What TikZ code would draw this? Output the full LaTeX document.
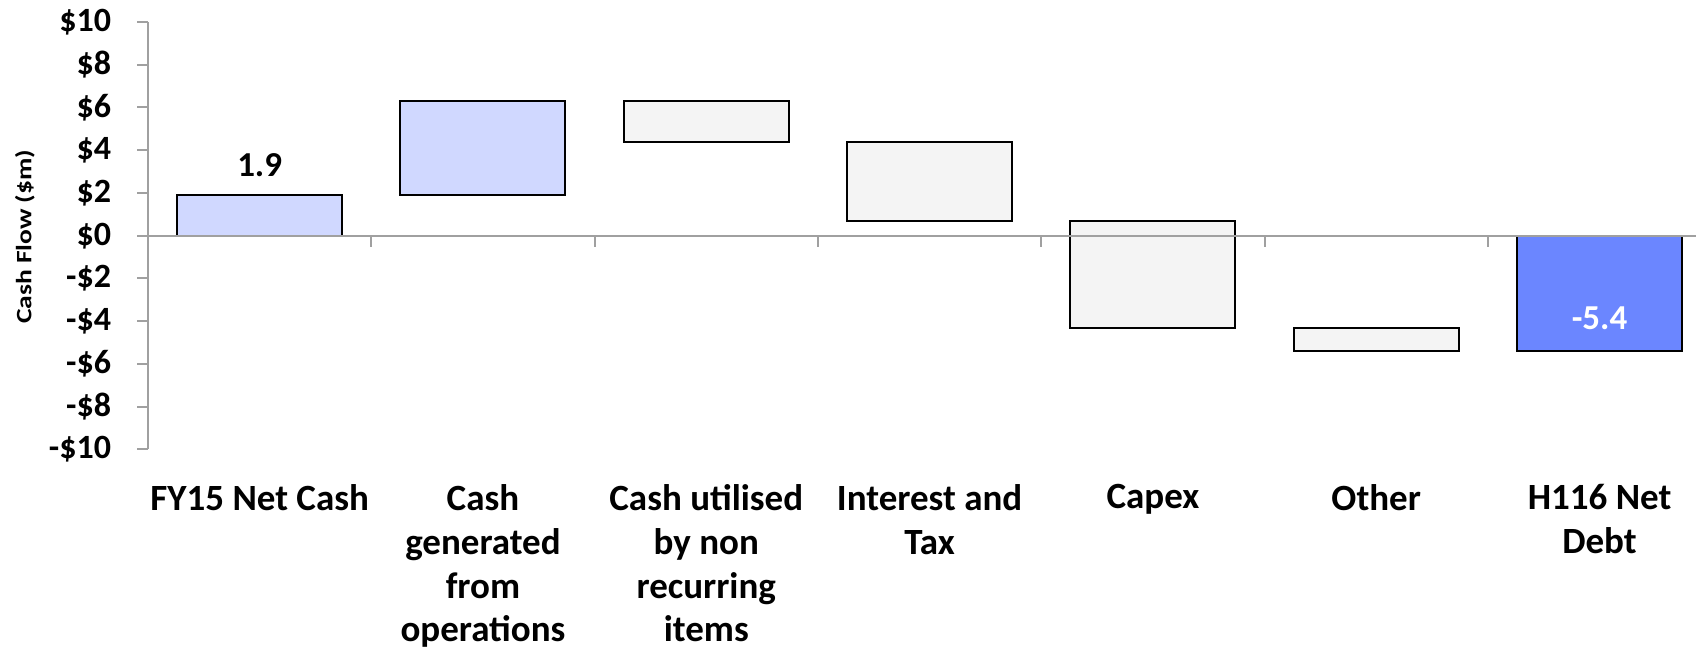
\documentclass[tikz,border=0pt]{standalone}
\usepackage{fontspec}
\setmainfont{Carlito}
\newfontfamily\titlefont{Carlito}[FakeStretch=1.25]
\usetikzlibrary{positioning}
\definecolor{barLight}{HTML}{D0D8FF}
\definecolor{barGrey}{HTML}{F4F4F4}
\definecolor{barDark}{HTML}{6B86FF}
\definecolor{axisGrey}{HTML}{A0A0A0}
\newcommand{\barhalf}{0.3695}
\begin{document}
\begin{tikzpicture}[x=111.65pt, y=10.685pt,
  font=\bfseries\fontsize{17}{21.9}\selectfont,
  bar/.style={draw=black, line width=1pt, fill=#1},
  axis/.style={draw=axisGrey, line width=1pt},
  cat/.style={anchor=north, align=center, inner sep=0pt,
    font=\bfseries\fontsize{18.5}{21.9}\selectfont},
  ticklab/.style={anchor=east, inner sep=0pt}
]
\useasboundingbox (-0.6628,-19.43) rectangle (6.932,11.03);
% waterfall bars: centre/from/to/fill
\foreach \c/\lo/\hi/\col in {0.5/0/1.9/barLight, 1.5/1.9/6.3/barLight,
    2.5/4.4/6.3/barGrey, 3.5/0.7/4.4/barGrey, 4.5/-4.3/0.7/barGrey,
    5.5/-5.4/-4.3/barGrey, 6.5/-5.4/0/barDark}
  \draw[bar=\col] (\c-\barhalf,\lo) rectangle (\c+\barhalf,\hi);
% axes
\draw[axis] (0,10) -- (0,-10);
\draw[axis] (0,0) -- (6.932,0);
\foreach \v/\t in {10/\$10, 8/\$8, 6/\$6, 4/\$4, 2/\$2, 0/\$0,
    -2/-\$2, -4/-\$4, -6/-\$6, -8/-\$8, -10/-\$10}
  \draw[axis] (0,\v) -- (-0.049,\v)
    node[ticklab, xshift=-12.5pt] (tick\v) {\t};
\foreach \i in {1,...,6}
  \draw[axis] (\i,0) -- (\i,-0.53);
\node[rotate=90, font=\titlefont\bfseries\fontsize{11}{13}\selectfont] (ytitle) at (-0.551,-0.05) {Cash Flow (\$m)};
% value labels
\node[anchor=base, font=\bfseries\fontsize{17.5}{21}\selectfont] (open) at (0.5,2.76) {1.9};
\node[anchor=base, text=white, font=\bfseries\fontsize{17.5}{21}\selectfont] (close) at (6.5,-4.41) {-5.4};
% category labels
\node[cat] (fy15) at (0.5,-11.62) {FY15 Net Cash};
\node[cat] (ops) at (1.5,-11.62) {Cash\\generated\\from\\operations};
\node[cat] (nonrec) at (2.5,-11.62) {Cash utilised\\by non\\recurring\\items};
\node[cat] (inttax) at (3.5,-11.62) {Interest and\\Tax};
\node[cat] (capex) at (4.5,-11.62) {Capex};
\node[cat] (other) at (5.5,-11.62) {Other};
\node[cat] (h116) at (6.5,-11.62) {H116 Net\\Debt};
\end{tikzpicture}
\end{document}
